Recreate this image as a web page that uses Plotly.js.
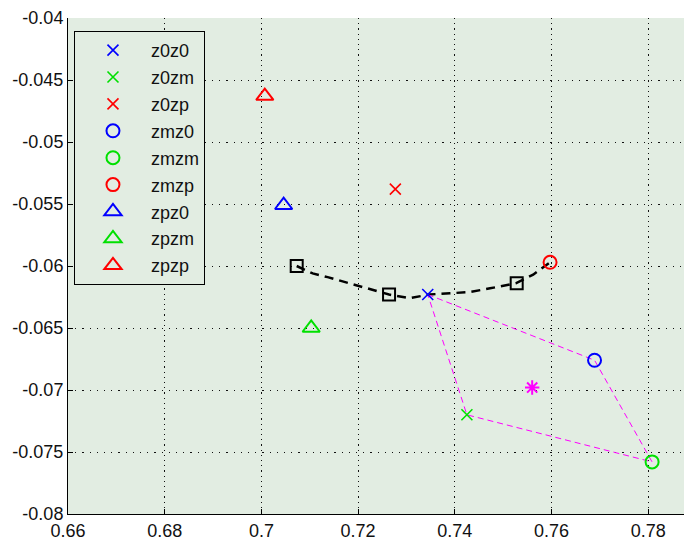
<!DOCTYPE html>
<html>
<head>
<meta charset="utf-8">
<script src="https://cdn.plot.ly/plotly-3.0.1.min.js"></script>
<style>html,body{margin:0;padding:0;background:#fff;}#chart{width:684px;height:540px;}</style>
</head>
<body>
<div id="chart"></div>
<script>
// ---- data ----
const seriesNames = ['z0z0', 'z0zm', 'z0zp', 'zmz0', 'zmzm', 'zmzp', 'zpz0', 'zpzm', 'zpzp'];
const seriesX = [0.7344, 0.7425, 0.7277, 0.7689, 0.7808, 0.7597, 0.7046, 0.7103, 0.7007];
const seriesY = [-0.0623, -0.0720, -0.0538, -0.0676, -0.0758, -0.0597, -0.0551, -0.0650, -0.0463];

const fitX = [0.7073, 0.7106, 0.7137, 0.7183, 0.7224, 0.7264, 0.7307, 0.7346, 0.7390, 0.7431, 0.7473, 0.7526, 0.7562, 0.7597];
const fitY = [-0.0600, -0.0606, -0.0609, -0.0614, -0.0619, -0.0623, -0.0626, -0.0623, -0.0622, -0.0621, -0.0618, -0.0614, -0.0607, -0.0597];

const squareX = [0.7073, 0.7264, 0.7528];
const squareY = [-0.0600, -0.0623, -0.0614];

const quadOrder = ['z0z0', 'zmz0', 'zmzm', 'z0zm', 'z0z0'];

const centerX = [0.7560];
const centerY = [-0.0698];

const xTickVals = [0.66, 0.68, 0.70, 0.72, 0.74, 0.76, 0.78];
const xTickLabels = ['0.66', '0.68', '0.7', '0.72', '0.74', '0.76', '0.78'];
const yTickVals = [-0.08, -0.075, -0.07, -0.065, -0.06, -0.055, -0.05, -0.045, -0.04];
const yTickLabels = ['-0.08', '-0.075', '-0.07', '-0.065', '-0.06', '-0.055', '-0.05', '-0.045', '-0.04'];

// ---- styles ----
const seriesColor = ['#0000ff', '#00e000', '#ff0000', '#0000ff', '#00e000', '#ff0000', '#0000ff', '#00e000', '#ff0000'];
const seriesSymbol = ['x-thin-open', 'x-thin-open', 'x-thin-open', 'circle-open', 'circle-open', 'circle-open', 'triangle-up-open', 'triangle-up-open', 'triangle-up-open'];
const seriesSize = [11, 11, 11, 13, 13, 13, 15, 15, 15];
const seriesLineW = [1.6, 1.6, 1.6, 2, 2, 2, 2, 2, 2];

const traces = [];

// black dashed fit curve with squares
traces.push({
  x: fitX, y: fitY, mode: 'lines', showlegend: false, hoverinfo: 'skip',
  line: {color: '#000', width: 2.5, dash: '9px,6px'}
});
traces.push({
  x: squareX, y: squareY, mode: 'markers', showlegend: false,
  marker: {symbol: 'square-open', size: 12, color: '#000', line: {width: 2, color: '#000'}}
});

// magenta quadrilateral
const qx = quadOrder.map(n => seriesX[seriesNames.indexOf(n)]);
const qy = quadOrder.map(n => seriesY[seriesNames.indexOf(n)]);
traces.push({
  x: qx, y: qy, mode: 'lines', showlegend: false, hoverinfo: 'skip',
  line: {color: '#ff00ff', width: 1, dash: '6px,4px'}
});
traces.push({
  x: centerX, y: centerY, mode: 'markers', showlegend: false,
  marker: {symbol: 'asterisk-open', size: 12, color: '#ff00ff', line: {width: 2, color: '#ff00ff'}}
});

seriesNames.forEach((n, i) => {
  traces.push({
    x: [seriesX[i]], y: [seriesY[i]], name: n, mode: 'markers', legendgroup: n,
    marker: {symbol: seriesSymbol[i], size: seriesSize[i], color: seriesColor[i],
             line: {width: seriesLineW[i], color: seriesColor[i]}}
  });
});

const tickFont = {family: 'Liberation Sans, Arial, sans-serif', size: 18, color: '#111'};
const bg = '#e2ede2';

const layout = {
  width: 684, height: 540,
  margin: {l: 68, r: 0, t: 18, b: 26, pad: 0},
  paper_bgcolor: '#ffffff', plot_bgcolor: bg,
  xaxis: {
    range: [0.66, 0.7874], tickvals: xTickVals, ticktext: xTickLabels,
    ticks: 'inside', ticklen: 5, tickcolor: '#000', tickwidth: 1,
    showline: true, linecolor: '#000', linewidth: 1,
    showgrid: true, gridcolor: '#111', gridwidth: 1, griddash: '1.2px,4px',
    zeroline: false, tickfont: tickFont
  },
  yaxis: {
    range: [-0.08, -0.04], tickvals: yTickVals, ticktext: yTickLabels,
    ticks: 'inside', ticklen: 5, tickcolor: '#000', tickwidth: 1,
    showline: true, linecolor: '#000', linewidth: 1,
    showgrid: true, gridcolor: '#111', gridwidth: 1, griddash: '1.2px,6px',
    zeroline: false, tickfont: tickFont
  },
  showlegend: true,
  legend: {
    x: 0.0097, y: 0.974, xanchor: 'left', yanchor: 'top',
    bgcolor: bg, bordercolor: '#000', borderwidth: 1,
    font: {family: 'Liberation Sans, Arial, sans-serif', size: 18, color: '#111'},
    itemwidth: 66, tracegroupgap: 0.5
  }
};

Plotly.newPlot('chart', traces, layout, {displayModeBar: false, staticPlot: true});
</script>
</body>
</html>
